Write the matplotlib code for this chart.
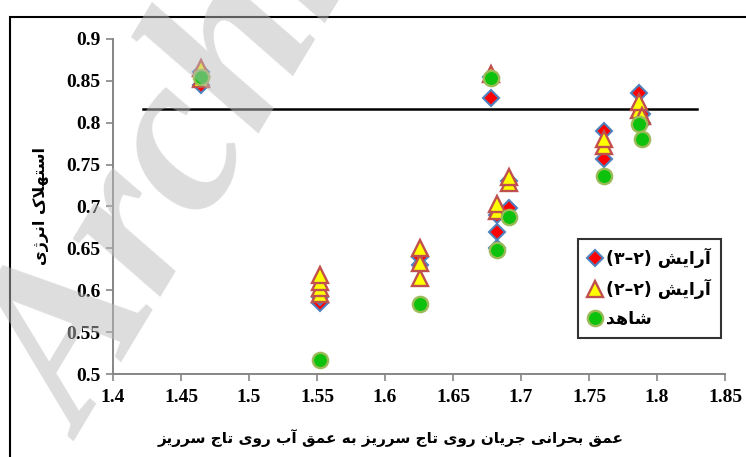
import matplotlib
matplotlib.use("Agg")
import matplotlib.pyplot as plt
from matplotlib.patches import Rectangle

# ---------------------------------------------------------------- data
# آرایش (۲-۳)
x_arr23 = [1.465, 1.465, 1.552, 1.552, 1.626, 1.626, 1.678, 1.678, 1.682,
           1.682, 1.682, 1.691, 1.691, 1.761, 1.761, 1.787, 1.789, 1.789]
y_arr23 = [0.845, 0.860, 0.585, 0.592, 0.630, 0.640, 0.829, 0.855, 0.690,
           0.670, 0.651, 0.730, 0.698, 0.790, 0.757, 0.835, 0.810, 0.800]
# آرایش (۲-۲)
x_arr22 = [1.465, 1.465, 1.552, 1.552, 1.552, 1.552, 1.626, 1.626, 1.626,
           1.678, 1.682, 1.682, 1.691, 1.691, 1.761, 1.761, 1.787, 1.787, 1.789]
y_arr22 = [0.852, 0.865, 0.595, 0.603, 0.610, 0.618, 0.615, 0.633, 0.650,
           0.858, 0.695, 0.703, 0.728, 0.735, 0.772, 0.780, 0.815, 0.825, 0.808]
# شاهد
x_ctrl = [1.465, 1.552, 1.626, 1.678, 1.682, 1.691, 1.761, 1.787, 1.789]
y_ctrl = [0.855, 0.517, 0.584, 0.853, 0.648, 0.688, 0.736, 0.799, 0.781]
# reference level
x_ref = [1.422, 1.829]
y_ref = [0.816, 0.816]

x_ticks = [1.4, 1.45, 1.5, 1.55, 1.6, 1.65, 1.7, 1.75, 1.8, 1.85]
y_ticks = [0.5, 0.55, 0.6, 0.65, 0.7, 0.75, 0.8, 0.85, 0.9]

label_arr23 = "آرایش"
label_arr22 = "آرایش"
label_ctrl = "شاهد"
x_title = "عمق بحرانی جریان روی تاج سرریز به عمق آب روی تاج سرریز"
y_title = "استهلاک انرژی"

# ------------------------------------------------ arabic shaping helpers
# isolated, final, initial, medial (None where the letter never joins left)
FORMS = {
    "ا": ("\uFE8D", "\uFE8E", None, None),
    "آ": ("\uFE81", "\uFE82", None, None),
    "ب": ("\uFE8F", "\uFE90", "\uFE91", "\uFE92"),
    "ت": ("\uFE95", "\uFE96", "\uFE97", "\uFE98"),
    "ج": ("\uFE9D", "\uFE9E", "\uFE9F", "\uFEA0"),
    "ح": ("\uFEA1", "\uFEA2", "\uFEA3", "\uFEA4"),
    "د": ("\uFEA9", "\uFEAA", None, None),
    "ر": ("\uFEAD", "\uFEAE", None, None),
    "ز": ("\uFEAF", "\uFEB0", None, None),
    "ژ": ("\uFB8A", "\uFB8B", None, None),
    "س": ("\uFEB1", "\uFEB2", "\uFEB3", "\uFEB4"),
    "ش": ("\uFEB5", "\uFEB6", "\uFEB7", "\uFEB8"),
    "ع": ("\uFEC9", "\uFECA", "\uFECB", "\uFECC"),
    "ق": ("\uFED5", "\uFED6", "\uFED7", "\uFED8"),
    "ک": ("\uFB8E", "\uFB8F", "\uFB90", "\uFB91"),
    "ل": ("\uFEDD", "\uFEDE", "\uFEDF", "\uFEE0"),
    "م": ("\uFEE1", "\uFEE2", "\uFEE3", "\uFEE4"),
    "ن": ("\uFEE5", "\uFEE6", "\uFEE7", "\uFEE8"),
    "ه": ("\uFEE9", "\uFEEA", "\uFEEB", "\uFEEC"),
    "و": ("\uFEED", "\uFEEE", None, None),
    "ی": ("\uFBFC", "\uFBFD", "\uFBFE", "\uFBFF"),
}
LAM_ALEF = ("\uFEFB", "\uFEFC")


def joins_left(ch):
    return ch in FORMS and FORMS[ch][2] is not None


def shape_rtl(text):
    """Contextual forms + visual (left-to-right) order for an RTL string."""
    chars = list(text)
    out = []
    i = 0
    while i < len(chars):
        ch = chars[i]
        prev = chars[i - 1] if i > 0 else ""
        linked_prev = joins_left(prev) and ch in FORMS
        if ch == "ل" and i + 1 < len(chars) and chars[i + 1] == "ا":
            out.append(LAM_ALEF[1] if linked_prev else LAM_ALEF[0])
            i += 2
            continue
        if ch not in FORMS:
            out.append(ch)
            i += 1
            continue
        nxt = chars[i + 1] if i + 1 < len(chars) else ""
        linked_next = joins_left(ch) and nxt in FORMS
        iso, fin, ini, med = FORMS[ch]
        if linked_prev and linked_next:
            out.append(med)
        elif linked_prev:
            out.append(fin)
        elif linked_next:
            out.append(ini)
        else:
            out.append(iso)
        i += 1
    return "".join(reversed(out))


def legend_label(word, a, b):
    return f"({a}\u2013{b}) " + shape_rtl(word)


# ---------------------------------------------------------------- figure
plt.rcParams["font.family"] = ["Liberation Serif", "DejaVu Sans"]
fig = plt.figure(figsize=(7.46, 4.57), dpi=100)
ax = fig.add_axes([0.1515, 0.1816, 0.8205, 0.7331])

ax.plot(x_ref, y_ref, color="black", lw=1.8, zorder=2)

ax.plot(x_arr23, y_arr23, ls="none", marker="D", ms=8.6, mfc="#FF0000",
        mec="#4F81BD", mew=1.5, zorder=3,
        label=legend_label(label_arr23, "۳", "۲"))
ax.plot(x_arr22, y_arr22, ls="none", marker="^", ms=12, mfc="#FFFF00",
        mec="#C0504D", mew=1.7, zorder=4,
        label=legend_label(label_arr22, "۲", "۲"))
ax.plot(x_ctrl, y_ctrl, ls="none", marker="o", ms=11, mfc="#0CC20C",
        mec="#9BBB59", mew=1.7, zorder=5, label=shape_rtl(label_ctrl))

ax.set_xlim(1.4, 1.85)
ax.set_ylim(0.5, 0.9)
ax.set_xticks(x_ticks)
ax.set_yticks(y_ticks)
ax.set_xticklabels([f"{v:g}" for v in x_ticks])
ax.set_yticklabels([f"{v:g}" for v in y_ticks])

for side in ("top", "right"):
    ax.spines[side].set_visible(False)
for side in ("left", "bottom"):
    ax.spines[side].set_color("#868686")
    ax.spines[side].set_linewidth(1.4)
ax.tick_params(direction="out", length=5, width=1.2, color="#868686",
               labelsize=14, pad=4)
ax.tick_params(axis="x", pad=6)
for lab in ax.get_xticklabels() + ax.get_yticklabels():
    lab.set_fontweight("bold")

ax.set_xlabel(shape_rtl(x_title), family="DejaVu Sans", fontweight="bold",
              fontsize=11)
ax.xaxis.set_label_coords(0.453, -0.165)
ax.set_ylabel(shape_rtl(y_title), family="DejaVu Sans", fontweight="bold",
              fontsize=11.5)
ax.yaxis.set_label_coords(-0.105, 0.5)

leg = ax.legend(loc="upper left", bbox_to_anchor=(0.745, 0.43),
                frameon=True, fancybox=False, borderpad=0.55,
                handletextpad=0.2, handlelength=0.9, labelspacing=0.62,
                prop={"family": "DejaVu Sans", "weight": "bold", "size": 12.5})
leg.get_frame().set_edgecolor("black")
leg.get_frame().set_linewidth(1.5)

# outer frame running off the right and bottom edges
fig.patches.append(Rectangle((10 / 746, -0.05), 1.1, 1 - 17 / 457 + 0.05,
                             transform=fig.transFigure, fill=False,
                             edgecolor="black", lw=1.5, zorder=0))

# watermark
fig.text(0.115, 0.035, "Archive", rotation=59, rotation_mode="anchor",
         ha="left", va="baseline", fontsize=165, fontstyle="italic",
         fontweight="bold", family="Liberation Serif", color="#BBBBBB",
         alpha=0.5, zorder=10)

fig.savefig("out.png", dpi=100)
